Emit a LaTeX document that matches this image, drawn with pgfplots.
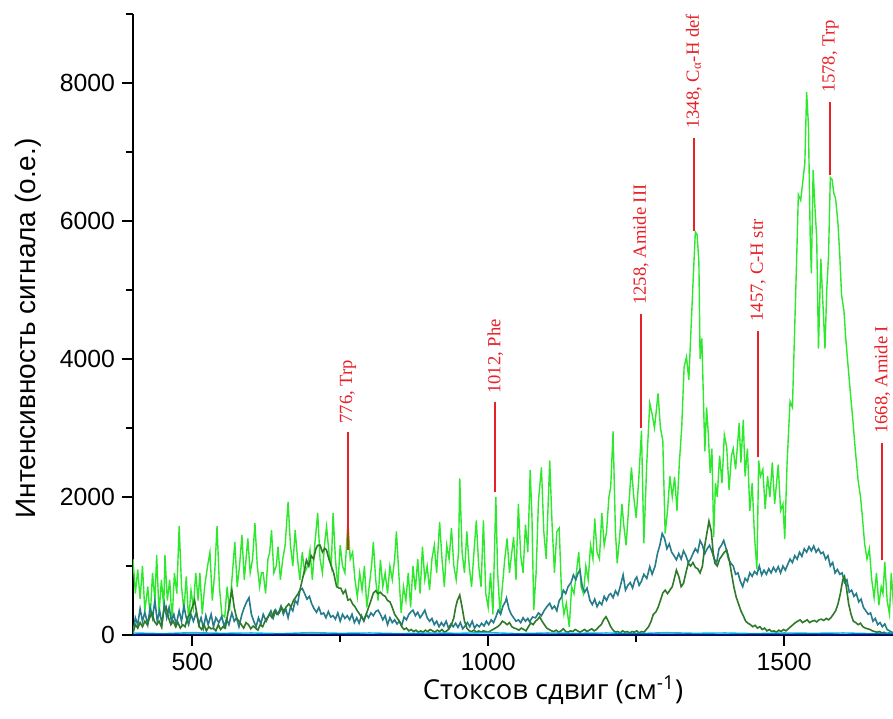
\documentclass[border=0pt]{standalone}
\usepackage{pgfplots}
\pgfplotsset{compat=1.18}
\usepackage{fontspec}
\setmainfont{Liberation Sans}
\newfontfamily\timesf{Liberation Serif}
\newfontfamily\opensans{Open Sans}
\definecolor{lime}{RGB}{45,232,45}
\definecolor{tealc}{RGB}{38,124,138}
\definecolor{dkgreen}{RGB}{46,122,40}
\definecolor{annred}{RGB}{232,32,40}
\definecolor{cyanb}{RGB}{0,190,240}
\definecolor{navyb}{RGB}{10,20,130}
\begin{document}
\begin{tikzpicture}
\begin{axis}[
  scale only axis, width=381.8pt, height=310.5pt,
  xmin=400, xmax=1690, ymin=0, ymax=9000,
  axis x line*=bottom, axis y line*=left,
  axis line style={-, line width=1pt, black},
  xtick={500,1000,1500}, minor xtick={750,1250},
  ytick={0,2000,4000,6000,8000}, minor ytick={1000,3000,5000,7000,9000},
  tick align=outside, major tick length=5.5pt, minor tick length=3.5pt,
  every tick/.style={line width=1pt, black},
  scaled ticks=false,
  /pgf/number format/assume math mode=true,
  /pgf/number format/set thousands separator={},
  tick label style={font=\fontsize{12.4}{14}\selectfont},
  xlabel={\opensans Стоксов сдвиг (см\textsuperscript{-1})},
  ylabel={Интенсивность сигнала (о.е.)},
  xlabel style={font=\fontsize{13.7}{15}\selectfont, at={(axis description cs:0.55,-0.0886)}, anchor=center},
  ylabel style={font=\fontsize{14}{16}\selectfont, at={(axis description cs:-0.1375,0.494)}, anchor=center},
  clip=true,
]
\coordinate (O) at (rel axis cs:0,0);
% bright green
\addplot[lime, line width=0.7pt] coordinates {
(400,1100)(404,600)(408,950)(412,520)(416,1000)(420,350)(425,700)(429,250)(433,900)(437,500)
(440,1160)(444,300)(448,800)(452,400)(454,1160)(458,500)(462,800)(466,200)(470,900)(474,600)
(478,1580)(482,700)(486,350)(490,850)(494,200)(498,650)(502,400)(506,900)(510,500)(513,900)
(517,300)(521,700)(526,1000)(530,1200)(534,500)(538,900)(542,1580)(546,700)(550,300)(555,260)
(559,700)(563,350)(568,900)(572,1350)(576,700)(580,1000)(584,1450)(588,800)(591,1100)(594,1400)
(598,900)(602,1100)(606,1620)(610,1000)(614,700)(617,900)(620,900)(624,600)(628,1100)(631,1200)
(634,1520)(638,900)(642,1000)(645,1280)(649,800)(653,1100)(657,1300)(662,1930)(666,1300)(670,1000)
(674,1520)(678,1100)(682,800)(686,1200)(690,900)(695,1000)(699,1230)(703,800)(707,1300)(712,1770)
(716,1100)(720,900)(724,1350)(727,1570)(731,1200)(735,1000)(738,1770)(742,1100)(746,700)(750,1300)
(754,1000)(758,900)(763,1640)(767,1100)(771,1200)(775,800)(779,550)(783,900)(787,650)(791,1000)
(795,400)(799,700)(803,1000)(806,1350)(810,800)(814,500)(818,1090)(822,700)(826,900)(830,600)
(834,1000)(838,800)(842,1100)(845,1500)(849,900)(853,320)(857,700)(861,500)(865,900)(869,400)
(873,1000)(877,650)(881,1100)(885,600)(889,1280)(893,800)(897,1000)(901,650)(905,1100)(909,1300)
(913,900)(918,1640)(922,1100)(926,700)(930,1300)(934,1100)(938,1550)(942,1000)(946,800)(950,1200)
(952,2270)(956,1200)(960,900)(964,1500)(968,1000)(972,700)(976,1200)(980,1660)(984,1000)(988,700)
(992,1660)(996,600)(1000,400)(1004,900)(1008,300)(1013,2000)(1016,900)(1020,320)(1024,700)(1028,1100)
(1032,1400)(1036,900)(1040,1200)(1043,1420)(1047,800)(1051,1900)(1055,1150)(1059,900)(1063,1600)(1067,1200)
(1071,2390)(1074,1700)(1077,360)(1081,900)(1085,1950)(1090,2430)(1094,1500)(1098,1100)(1104,2530)(1108,1600)
(1112,900)(1116,1500)(1120,1550)(1124,600)(1128,300)(1132,460)(1137,116)(1141,700)(1145,600)(1149,900)
(1153,1200)(1157,700)(1161,600)(1165,1000)(1169,800)(1173,1300)(1177,1100)(1180,1690)(1184,1200)(1188,1100)
(1192,1770)(1196,1300)(1200,1500)(1204,2000)(1207,2140)(1211,2950)(1215,1500)(1218,1040)(1222,1400)(1226,1900)
(1229,1600)(1233,1300)(1237,1800)(1242,2430)(1246,2000)(1250,1700)(1254,2200)(1259,2960)(1263,1330)(1268,2500)
(1273,3360)(1277,3200)(1281,3000)(1287,3500)(1291,3000)(1295,2820)(1299,1470)(1303,1800)(1307,2300)(1311,2000)
(1315,2290)(1319,1800)(1323,2500)(1327,3010)(1331,3880)(1335,4030)(1339,3700)(1343,4500)(1346,5090)(1350,5840)
(1353,5800)(1356,5400)(1358,4000)(1361,4300)(1363,3640)(1366,2660)(1369,3300)(1372,2900)(1375,2350)(1378,2700)
(1381,1420)(1384,2200)(1387,2000)(1391,2600)(1395,2200)(1399,2900)(1403,2720)(1407,2100)(1411,2600)(1414,2700)
(1418,2400)(1424,3070)(1427,2500)(1431,3120)(1434,2300)(1438,2700)(1442,1800)(1446,2200)(1450,1420)(1454,955)
(1457,2530)(1460,2300)(1464,2400)(1468,1830)(1472,2300)(1476,2000)(1480,2500)(1484,1900)(1490,2470)(1494,1800)
(1498,1900)(1501,1390)(1505,2500)(1510,3385)(1514,3300)(1518,4500)(1521,5400)(1524,6380)(1528,6300)(1531,6530)
(1535,6840)(1538,7870)(1541,7400)(1544,5800)(1546,5240)(1549,6740)(1552,6200)(1555,5760)(1558,4150)(1562,5450)
(1565,4900)(1569,4150)(1572,5000)(1575,5500)(1578,6630)(1581,6600)(1584,6400)(1587,6320)(1591,5960)(1594,5500)
(1597,4930)(1601,4700)(1604,4310)(1608,3900)(1612,3500)(1616,3125)(1620,2700)(1625,2240)(1629,2000)(1632,1730)
(1636,1320)(1640,1100)(1644,1250)(1648,800)(1652,540)(1656,900)(1660,430)(1664,700)(1667,600)(1670,1060)
(1674,500)(1678,300)(1681,900)(1685,400)(1690,700)
};
% teal
\addplot[tealc, line width=0.8pt] coordinates {
(400,30)(404,250)(408,150)(412,380)(416,200)(420,330)(425,150)(429,400)(433,250)(437,500)
(441,200)(445,350)(449,150)(453,450)(457,250)(461,400)(465,200)(469,300)(473,150)(478,350)
(482,200)(486,420)(490,250)(494,150)(498,300)(502,200)(507,330)(511,150)(515,250)(519,100)
(523,280)(527,150)(532,300)(536,120)(540,250)(545,180)(550,270)(554,120)(558,230)(562,150)
(567,320)(571,200)(575,250)(579,120)(584,300)(588,400)(592,480)(596,540)(600,300)(604,200)
(608,120)(612,250)(616,160)(620,300)(625,200)(629,280)(633,350)(637,250)(641,360)(645,300)
(650,420)(654,300)(658,380)(662,250)(666,400)(670,350)(674,500)(678,450)(682,650)(686,675)
(690,600)(694,520)(698,560)(702,450)(706,380)(710,330)(714,400)(718,300)(722,320)(726,250)
(730,340)(734,260)(738,280)(742,230)(746,320)(750,200)(754,300)(758,240)(762,280)(766,220)
(770,300)(774,180)(778,250)(782,170)(786,280)(790,200)(794,300)(798,250)(802,320)(806,280)
(810,340)(814,360)(818,300)(822,220)(826,280)(830,150)(834,250)(838,180)(842,220)(846,160)
(850,200)(854,140)(858,260)(862,220)(866,300)(870,340)(873,360)(877,280)(881,330)(885,250)
(889,300)(893,360)(897,250)(901,200)(905,240)(909,150)(913,200)(917,120)(921,180)(925,130)
(929,200)(933,100)(937,160)(941,120)(945,170)(949,110)(953,180)(957,90)(961,130)(965,180)
(969,120)(973,200)(977,100)(981,150)(985,120)(989,170)(993,130)(997,200)(1001,150)(1005,220)
(1009,180)(1013,260)(1017,360)(1021,300)(1025,420)(1029,480)(1031,535)(1035,380)(1039,300)(1043,250)
(1047,200)(1051,220)(1055,180)(1059,250)(1063,200)(1067,240)(1070,190)(1075,260)(1080,250)(1085,320)
(1090,280)(1095,360)(1100,420)(1104,460)(1108,380)(1112,420)(1116,350)(1120,500)(1124,550)(1127,650)
(1131,600)(1135,700)(1140,760)(1144,870)(1148,800)(1152,900)(1155,940)(1159,700)(1163,620)(1167,680)
(1172,500)(1176,440)(1180,520)(1184,410)(1188,480)(1192,440)(1196,560)(1200,500)(1204,580)(1207,600)
(1211,540)(1215,640)(1219,580)(1223,700)(1228,870)(1232,650)(1236,720)(1240,760)(1244,680)(1248,800)
(1251,840)(1255,720)(1259,780)(1263,880)(1268,820)(1273,990)(1277,880)(1282,1000)(1286,1180)(1290,1300)
(1294,1470)(1298,1400)(1302,1250)(1306,1320)(1310,1200)(1314,1150)(1318,1090)(1322,1180)(1326,1100)(1330,1220)
(1334,1150)(1338,1050)(1342,1100)(1346,1180)(1350,1250)(1354,1200)(1358,1370)(1362,1300)(1366,1180)(1370,1250)
(1374,1300)(1378,1210)(1382,1100)(1386,1050)(1390,1250)(1394,1300)(1398,1370)(1402,1250)(1406,1100)(1410,1040)
(1414,1000)(1418,880)(1422,900)(1426,780)(1430,700)(1434,820)(1438,780)(1442,900)(1446,850)(1450,920)
(1454,880)(1458,1000)(1462,870)(1466,940)(1470,880)(1474,960)(1478,900)(1482,980)(1486,920)(1490,990)
(1494,900)(1498,1000)(1502,940)(1506,1020)(1510,1100)(1514,1050)(1518,1150)(1522,1100)(1526,1200)(1530,1140)
(1534,1250)(1538,1200)(1542,1280)(1546,1220)(1550,1290)(1554,1200)(1558,1250)(1562,1180)(1566,1200)(1570,1100)
(1574,1150)(1578,1000)(1582,1050)(1586,900)(1590,950)(1594,880)(1598,900)(1602,760)(1606,800)(1610,620)
(1614,650)(1618,560)(1622,600)(1626,480)(1630,520)(1634,400)(1638,350)(1642,300)(1646,320)(1650,200)
(1654,240)(1658,150)(1662,180)(1666,120)(1670,160)(1674,80)(1678,60)(1682,40)(1690,30)
};
% dark green
\addplot[dkgreen, line width=0.8pt] coordinates {
(400,30)(404,150)(408,100)(412,180)(416,120)(420,200)(424,150)(428,250)(432,320)(436,200)
(440,150)(444,200)(448,120)(452,350)(456,410)(460,250)(464,150)(468,200)(472,120)(476,180)
(480,100)(484,150)(488,120)(492,250)(496,300)(500,400)(504,506)(508,300)(512,120)(516,80)
(520,150)(524,60)(528,120)(532,90)(536,100)(540,60)(544,150)(548,80)(552,120)(556,100)
(560,300)(564,500)(567,651)(571,400)(575,246)(579,200)(583,150)(587,100)(591,180)(595,150)
(599,90)(603,130)(607,100)(611,70)(615,150)(619,120)(623,200)(627,250)(631,300)(635,250)
(639,350)(643,300)(647,320)(651,400)(655,350)(659,410)(663,450)(667,410)(671,500)(675,550)
(679,600)(682,651)(686,800)(690,950)(693,1085)(697,1000)(701,1150)(705,1100)(709,1250)(712,1300)
(716,1302)(720,1200)(724,1258)(727,1230)(731,1100)(735,1000)(739,900)(744,700)(748,680)(751,680)
(755,600)(759,651)(763,506)(767,520)(771,450)(775,410)(779,350)(783,300)(787,250)(790,217)
(794,300)(798,400)(802,500)(806,608)(810,640)(814,600)(818,620)(822,580)(826,560)(830,500)
(834,482)(838,400)(842,300)(846,250)(850,200)(854,120)(858,80)(862,100)(866,60)(870,80)
(874,50)(878,70)(882,40)(886,60)(890,40)(894,70)(898,50)(902,80)(906,60)(910,40)
(914,70)(918,50)(922,80)(926,40)(930,60)(934,90)(938,150)(942,250)(945,400)(948,500)
(952,579)(956,400)(960,200)(964,100)(968,60)(972,50)(976,70)(980,40)(984,60)(988,40)
(992,60)(996,50)(1000,40)(1004,60)(1008,80)(1012,100)(1016,120)(1020,150)(1024,200)(1028,180)
(1032,150)(1036,180)(1040,120)(1044,100)(1048,90)(1052,70)(1056,100)(1060,80)(1064,60)(1068,120)
(1072,174)(1076,150)(1080,200)(1084,230)(1087,265)(1091,200)(1095,150)(1099,100)(1103,80)(1107,60)
(1111,50)(1115,70)(1119,40)(1123,60)(1127,90)(1131,50)(1135,40)(1139,60)(1143,50)(1147,80)
(1151,60)(1155,40)(1159,60)(1163,80)(1167,50)(1171,70)(1175,90)(1179,60)(1183,80)(1187,120)
(1191,150)(1195,220)(1199,265)(1203,200)(1207,120)(1211,70)(1215,40)(1219,50)(1223,30)(1227,60)
(1231,40)(1235,50)(1239,30)(1243,50)(1247,40)(1251,60)(1255,30)(1259,50)(1263,40)(1267,80)
(1271,120)(1275,193)(1279,300)(1283,330)(1287,400)(1291,500)(1295,608)(1299,650)(1303,600)(1307,650)
(1311,700)(1314,800)(1318,940)(1322,850)(1326,700)(1330,750)(1334,900)(1338,1040)(1342,1000)(1346,1050)
(1350,980)(1354,960)(1358,900)(1362,1000)(1366,1300)(1370,1500)(1373,1650)(1377,1500)(1380,1200)(1383,1040)
(1387,1000)(1391,1100)(1395,1150)(1399,1200)(1403,1230)(1407,1100)(1411,900)(1415,700)(1419,550)(1423,450)
(1427,350)(1431,280)(1435,200)(1439,170)(1443,150)(1447,120)(1451,140)(1455,100)(1459,120)(1463,80)
(1467,100)(1471,60)(1475,80)(1479,50)(1483,60)(1487,40)(1491,70)(1495,50)(1499,80)(1503,60)
(1507,90)(1511,120)(1515,150)(1519,180)(1523,200)(1527,220)(1531,180)(1535,200)(1539,220)(1543,180)
(1547,200)(1551,210)(1555,190)(1559,220)(1563,230)(1567,210)(1571,240)(1575,220)(1579,250)(1583,300)
(1587,350)(1591,450)(1595,600)(1599,800)(1602,850)(1605,700)(1609,450)(1613,300)(1617,200)(1621,180)
(1625,150)(1629,170)(1633,120)(1637,100)(1641,90)(1645,80)(1649,60)(1653,50)(1657,40)(1661,50)
(1665,30)(1669,40)(1673,20)(1677,30)(1681,20)(1690,20)
};
% baselines
\addplot[cyanb, line width=0.7pt] coordinates {
(400,30)(450,20)(500,35)(550,25)(600,30)(650,20)(700,35)(750,25)(800,30)(850,20)(900,30)
(950,25)(1000,35)(1050,20)(1100,30)(1150,25)(1200,30)(1250,20)(1300,35)(1350,25)(1400,30)
(1450,20)(1500,30)(1550,25)(1600,30)(1650,20)(1690,25)
};
\addplot[navyb, line width=0.9pt] coordinates {
(400,5)(500,8)(600,4)(700,7)(800,5)(900,6)(1000,4)(1100,7)(1200,5)(1300,6)(1400,4)(1500,7)(1600,5)(1690,6)
};
% annotation lines
\addplot[annred, line width=1pt] coordinates {(763,1230)(763,2937)};
\addplot[annred, line width=1pt] coordinates {(1012,2070)(1012,3370)};
\addplot[annred, line width=1pt] coordinates {(1258,2995)(1258,4658)};
\addplot[annred, line width=1pt] coordinates {(1347.5,5858)(1347.5,7204)};
\addplot[annred, line width=1pt] coordinates {(1456,2578)(1456,4412)};
\addplot[annred, line width=1pt] coordinates {(1578,6660)(1578,7725)};
\addplot[annred, line width=1pt] coordinates {(1666,1085)(1666,2785)};
\begin{scope}[every node/.style={rotate=90, anchor=west, inner sep=0pt, text=annred, font=\timesf\fontsize{9.3}{10}\selectfont}]
\node at (axis cs:763,3060) {776, Trp};
\node at (axis cs:1012,3490) {1012, Phe};
\node at (axis cs:1258,4780) {1258, Amide III};
\node at (axis cs:1347.5,7330) {1348, C\textsubscript{α}-H def};
\node at (axis cs:1456,4540) {1457, C-H str};
\node at (axis cs:1578,7850) {1578, Trp};
\node at (axis cs:1666,2910) {1668, Amide I};
\end{scope}
\end{axis}
\pgfresetboundingbox
\path[use as bounding box] ([shift={(-66.5pt,-41.5pt)}]O) rectangle ([shift={(380pt,317.5pt)}]O);
\end{tikzpicture}
\end{document}
